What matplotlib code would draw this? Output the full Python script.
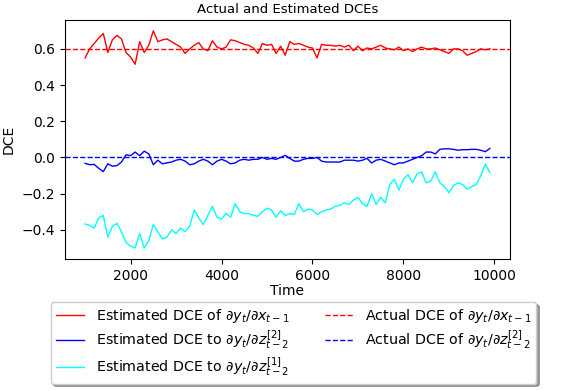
import numpy as np
import matplotlib
matplotlib.use("Agg")
import matplotlib.pyplot as plt

time = list(range(1000, 10000, 100))

est_x1 = [0.55, 0.60, 0.63, 0.66, 0.685, 0.58, 0.65, 0.675, 0.655, 0.58,
          0.555, 0.515, 0.64, 0.58, 0.62, 0.70, 0.64, 0.65, 0.655, 0.64,
          0.625, 0.61, 0.575, 0.60, 0.62, 0.635, 0.60, 0.59, 0.645, 0.61,
          0.60, 0.61, 0.65, 0.645, 0.635, 0.625, 0.62, 0.605, 0.575, 0.63,
          0.62, 0.625, 0.575, 0.615, 0.565, 0.64, 0.625, 0.63, 0.62, 0.61,
          0.605, 0.55, 0.625, 0.62, 0.62, 0.615, 0.62, 0.61, 0.62, 0.59,
          0.615, 0.59, 0.605, 0.60, 0.61, 0.62, 0.605, 0.60, 0.595, 0.61,
          0.59, 0.60, 0.585, 0.60, 0.61, 0.60, 0.60, 0.605, 0.595, 0.585,
          0.575, 0.60, 0.60, 0.59, 0.565, 0.575, 0.585, 0.60, 0.595, 0.60]

est_z2 = [-0.032, -0.04, -0.038, -0.06, -0.078, -0.035, -0.048, -0.045, -0.025, 0.015,
          0.01, 0.03, 0.01, 0.035, 0.02, -0.04, -0.015, -0.035, -0.03, -0.025,
          -0.015, -0.01, -0.02, -0.04, -0.035, -0.02, -0.01, -0.02, -0.04, -0.02,
          -0.01, -0.02, -0.035, -0.03, -0.015, -0.01, -0.015, -0.01, -0.01, 0.0,
          -0.01, -0.005, -0.01, 0.0, 0.012, -0.005, -0.02, -0.02, -0.01, -0.005,
          -0.005, 0.0, -0.02, -0.025, -0.025, -0.025, -0.025, -0.015, -0.015, -0.015,
          -0.02, -0.015, -0.005, -0.03, -0.015, -0.01, -0.02, -0.03, -0.04, -0.03,
          -0.03, -0.02, -0.01, 0.0, 0.01, 0.03, 0.03, 0.02, 0.045, 0.048,
          0.048, 0.045, 0.04, 0.043, 0.043, 0.045, 0.045, 0.04, 0.032, 0.05]

est_z1 = [-0.368, -0.375, -0.39, -0.335, -0.32, -0.44, -0.38, -0.365, -0.41, -0.47,
          -0.49, -0.50, -0.42, -0.50, -0.46, -0.37, -0.41, -0.45, -0.44, -0.40,
          -0.42, -0.39, -0.41, -0.38, -0.29, -0.335, -0.37, -0.32, -0.27, -0.33,
          -0.34, -0.31, -0.33, -0.255, -0.30, -0.31, -0.31, -0.32, -0.325, -0.30,
          -0.28, -0.29, -0.33, -0.295, -0.32, -0.31, -0.315, -0.255, -0.30, -0.285,
          -0.29, -0.315, -0.30, -0.29, -0.285, -0.27, -0.265, -0.25, -0.26, -0.235,
          -0.22, -0.255, -0.27, -0.20, -0.26, -0.22, -0.25, -0.15, -0.12, -0.18,
          -0.12, -0.095, -0.14, -0.09, -0.08, -0.14, -0.13, -0.08, -0.14, -0.16,
          -0.195, -0.155, -0.14, -0.15, -0.175, -0.16, -0.15, -0.10, -0.035, -0.085]

actual_x1 = 0.6
actual_z2 = 0.0

fig = plt.figure(figsize=(5.79, 3.91), dpi=100)
ax = fig.add_axes([0.112, 0.338, 0.769, 0.611])

h1, = ax.plot(time, est_x1, color='red', lw=1,
              label=r'Estimated DCE of $\partial y_t/\partial x_{t-1}$')
h2, = ax.plot(time, est_z2, color='blue', lw=1,
              label=r'Estimated DCE to $\partial y_t/\partial z^{[2]}_{t-2}$')
h3, = ax.plot(time, est_z1, color='cyan', lw=1,
              label=r'Estimated DCE to $\partial y_t/\partial z^{[1]}_{t-2}$')
h4 = ax.axhline(actual_x1, color='red', ls='--', lw=1,
                label=r'Actual DCE of $\partial y_t/\partial x_{t-1}$')
h5 = ax.axhline(actual_z2, color='blue', ls='--', lw=1,
                label=r'Actual DCE of $\partial y_t/\partial z^{[2]}_{t-2}$')

ax.set_title('Actual and Estimated DCEs', fontsize=9.5, pad=5)
ax.set_xlabel('Time', fontsize=10, labelpad=1)
ax.set_ylabel('DCE', fontsize=10)
ax.tick_params(labelsize=10)
ax.set_xticks([2000, 4000, 6000, 8000, 10000])
ax.set_yticks([-0.4, -0.2, 0.0, 0.2, 0.4, 0.6])

fig.legend(handles=[h1, h2, h3, h4, h5], loc='upper center',
           bbox_to_anchor=(0.507, 0.246), ncol=2, shadow=True, fontsize=10.3,
           columnspacing=2.5, labelspacing=0.25, borderpad=0.35)

fig.savefig('out.png', dpi=100)
